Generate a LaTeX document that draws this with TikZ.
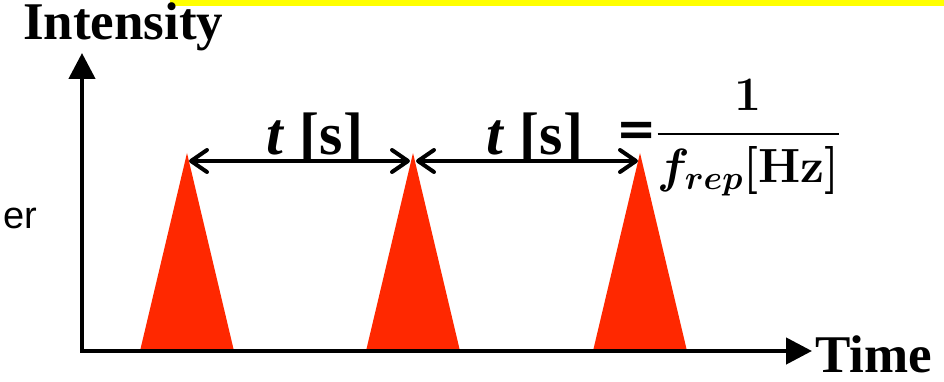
\RequirePackage{fix-cm}
\documentclass[tikz,border=0pt]{standalone}
\usepackage{amsmath}
\usepackage{fontspec}
\setmainfont{Liberation Serif}
\setsansfont{Liberation Sans}
\newfontfamily\heavyfont{DejaVu Sans}
\usetikzlibrary{arrows.meta,positioning}
\definecolor{pulsered}{RGB}{255,40,0}
\definecolor{markyellow}{RGB}{255,255,0}
\newcommand{\reprate}{\ensuremath{\text{\heavyfont\bfseries =}\genfrac{}{}{2.6pt}{0}{\mathbf{1}}{f_{rep}\mathbf{[Hz]}}}}

\begin{document}
\begin{tikzpicture}[x=1pt,y=-1pt,
  axisline/.style={line width=4.5pt, line join=miter,
    {Triangle[length=26pt,width=26pt]}-{Triangle[length=26pt,width=26pt]}},
  period/.style={line width=4pt,
    {Straight Barb[length=16pt,width=22pt,line cap=round,round]}-{Straight Barb[length=16pt,width=22pt,line cap=round,round]}},
  bigword/.style={font=\fontsize{53}{60}\selectfont\bfseries, inner sep=0pt},
  gaplabel/.style={font=\fontsize{60}{66}\selectfont\bfseries, inner sep=0pt},
  formula/.style={font=\fontsize{48}{56}\selectfont\boldmath, inner sep=0pt}]
\useasboundingbox (0,0) rectangle (944,382);
% Yellow mark on top
\fill[markyellow] (170,0) rectangle (944,6);
% Cut-off word on the left
\node[font=\fontsize{38}{44}\selectfont\sffamily, inner sep=0pt, anchor=base east] (cutword) at (37,228) {er};
% Pulses
\foreach \x [count=\i] in {187,413,640} {
  \fill[pulsered] (\x-47,351) -- (\x,153) -- (\x+47,351) -- cycle;
  \coordinate (peak\i) at (\x,153);
}
% Axes
\coordinate (origin) at (82,351);
\coordinate (ytop) at (82,53);
\coordinate (xend) at (812,351);
\draw[axisline] (ytop) -- (origin) -- (xend);
\node[bigword, anchor=base west] (ylabel) at (23,40) {Intensity};
\node[bigword, anchor=base west] (xlabel) at (815,372) {Time};
% Spacing between pulses
\draw[period] ([xshift=2pt,yshift=-8pt]peak1) -- ([xshift=-3pt,yshift=-8pt]peak2);
\draw[period] ([xshift=3pt,yshift=-8pt]peak2) -- ([xshift=-2pt,yshift=-8pt]peak3);
\node[gaplabel, anchor=base] (gap1) at (315,155) {\textit{t} [s]};
\node[gaplabel, anchor=base] (gap2) at (535,155) {\textit{t} [s]};
% Repetition rate
\node[formula, anchor=base west] (rate) at (616,146) {\reprate};
\end{tikzpicture}
\end{document}
